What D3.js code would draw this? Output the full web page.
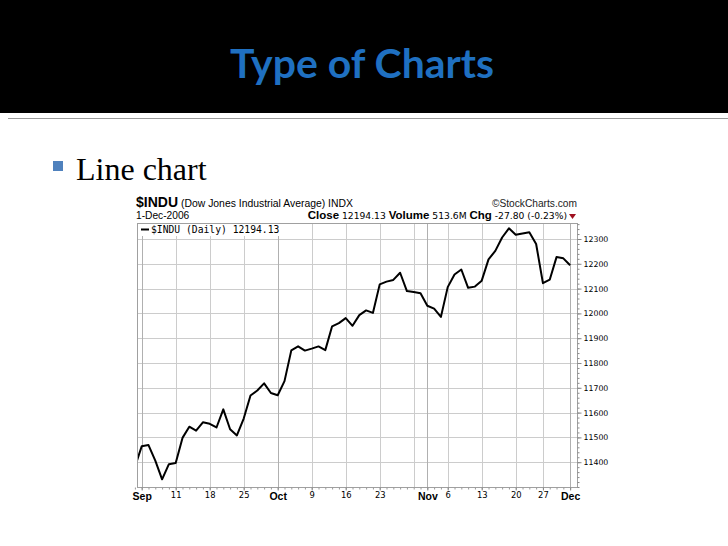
<!DOCTYPE html>
<html><head><meta charset="utf-8">
<script src="https://cdn.jsdelivr.net/npm/d3@7"></script>
<style>
html,body{margin:0;padding:0;background:#fff;}
svg{display:block;}
</style></head>
<body>
<script>
// ---- data ----
const dates = ["2006-08-31",
 "2006-09-01","2006-09-05","2006-09-06","2006-09-07","2006-09-08","2006-09-11","2006-09-12","2006-09-13","2006-09-14","2006-09-15",
 "2006-09-18","2006-09-19","2006-09-20","2006-09-21","2006-09-22","2006-09-25","2006-09-26","2006-09-27","2006-09-28","2006-09-29",
 "2006-10-02","2006-10-03","2006-10-04","2006-10-05","2006-10-06","2006-10-09","2006-10-10","2006-10-11","2006-10-12","2006-10-13",
 "2006-10-16","2006-10-17","2006-10-18","2006-10-19","2006-10-20","2006-10-23","2006-10-24","2006-10-25","2006-10-26","2006-10-27",
 "2006-10-30","2006-10-31","2006-11-01","2006-11-02","2006-11-03","2006-11-06","2006-11-07","2006-11-08","2006-11-09","2006-11-10",
 "2006-11-13","2006-11-14","2006-11-15","2006-11-16","2006-11-17","2006-11-20","2006-11-21","2006-11-22","2006-11-24","2006-11-27",
 "2006-11-28","2006-11-29","2006-11-30","2006-12-01"];
const closes = [11381,
 11464,11469,11406,11331,11392,11397,11498,11543,11527,11561,
 11555,11540,11613,11533,11508,11576,11669,11689,11718,11679,
 11670,11727,11851,11867,11850,11858,11867,11852,11948,11961,
 11981,11950,11993,12012,12002,12117,12128,12135,12164,12090,
 12086,12081,12031,12019,11986,12106,12157,12177,12103,12108,
 12132,12218,12252,12306,12343,12317,12322,12327,12280,12122,
 12136,12227,12222,12194];
const xTickDates = ["2006-09-01","2006-09-11","2006-09-18","2006-09-25","2006-10-02","2006-10-09","2006-10-16","2006-10-23",
 "2006-11-01","2006-11-06","2006-11-13","2006-11-20","2006-11-27","2006-12-01"];
const xTickLabels = ["Sep","11","18","25","Oct","9","16","23","Nov","6","13","20","27","Dec"];
const monthStarts = ["2006-09-01","2006-10-02","2006-11-01","2006-12-01"];
const weekGridDates = ["2006-09-11","2006-09-18","2006-09-25","2006-10-09","2006-10-16","2006-10-23","2006-10-30",
 "2006-11-06","2006-11-13","2006-11-20","2006-11-27"];
const yTicks = [11400,11500,11600,11700,11800,11900,12000,12100,12200,12300];

(function(){
const W = 728, H = 546;
const svg = d3.select("body").append("svg").attr("width", W).attr("height", H);

// ---- slide ----
svg.append("rect").attr("x",0).attr("y",0).attr("width",W).attr("height",113).attr("fill","#000");
const title = svg.append("text").attr("x",362).attr("y",78).attr("text-anchor","middle")
  .attr("font-family","Lato, 'Open Sans', sans-serif").attr("font-weight","bold")
  .attr("font-size",40).attr("fill","#1f70c1").text("Type of Charts");
const tw = title.node().getComputedTextLength();
title.attr("font-size", 40*264/tw);
svg.append("line").attr("x1",8).attr("x2",W).attr("y1",118.5).attr("y2",118.5).attr("stroke","#9a9a9a").attr("stroke-width",1.2);
svg.append("rect").attr("x",53).attr("y",161).attr("width",10).attr("height",10).attr("fill","#4f81bd");
svg.append("text").attr("x",76).attr("y",180).attr("font-family","'Liberation Serif', 'Times New Roman', serif")
  .attr("font-size",32).attr("fill","#000").text("Line chart");

// ---- chart ----
const pL = 137, pR = 577, pT = 223, pB = 487;
const idx = d => dates.indexOf(d);
const x = d3.scaleLinear().domain([0.31, 65.01]).range([pL, pR]);
const y = d3.scaleLinear().domain([11300, 12364.5]).range([pB, pT]);

const g = svg.append("g");
g.append("rect").attr("x",pL).attr("y",pT).attr("width",pR-pL).attr("height",pB-pT).attr("fill","#fff");

g.selectAll(".hg").data(yTicks).join("line")
  .attr("x1",pL).attr("x2",pR).attr("y1",d=>Math.round(y(d))+0.5).attr("y2",d=>Math.round(y(d))+0.5)
  .attr("stroke","#cccccc").attr("stroke-width",1);
g.selectAll(".vg").data(weekGridDates).join("line")
  .attr("x1",d=>Math.round(x(idx(d)))+0.5).attr("x2",d=>Math.round(x(idx(d)))+0.5).attr("y1",pT).attr("y2",pB)
  .attr("stroke","#cccccc").attr("stroke-width",1);
g.selectAll(".mg").data(monthStarts).join("line")
  .attr("x1",d=>Math.round(x(idx(d)))+0.5).attr("x2",d=>Math.round(x(idx(d)))+0.5).attr("y1",pT).attr("y2",pB)
  .attr("stroke","#b0b0b0").attr("stroke-width",1);

svg.append("clipPath").attr("id","plotclip").append("rect")
  .attr("x",pL).attr("y",pT).attr("width",pR-pL).attr("height",pB-pT);
const line = d3.line().x((d,i)=>x(i)).y(d=>y(d));
g.append("path").datum(closes).attr("d",line).attr("clip-path","url(#plotclip)")
  .attr("fill","none").attr("stroke","#000").attr("stroke-width",2).attr("stroke-linejoin","round");

g.append("rect").attr("x",pL+0.5).attr("y",pT+0.5).attr("width",pR-pL).attr("height",pB-pT)
  .attr("fill","none").attr("stroke","#a0a0a0").attr("stroke-width",1);

// legend
const leg = g.append("g");
leg.append("rect").attr("x",pL+1).attr("y",pT+1).attr("width",142).attr("height",12).attr("fill","#fff");
leg.append("line").attr("x1",141).attr("x2",149).attr("y1",229.5).attr("y2",229.5).attr("stroke","#000").attr("stroke-width",2);
leg.append("text").attr("x",151).attr("y",232.5).attr("font-family","'DejaVu Sans Mono', monospace")
  .attr("font-size",9.7).attr("fill","#000").text("$INDU (Daily) 12194.13");

// y axis (right)
const yMinor = d3.range(11300, 12361, 20);
const ya2 = g.append("g").attr("transform",`translate(${pR+0.5},0)`)
  .call(d3.axisRight(y).tickValues(yMinor).tickSize(2).tickFormat(""));
ya2.select(".domain").remove();
ya2.selectAll("line").attr("stroke","#888");
const ya = g.append("g").attr("transform",`translate(${pR+0.5},0)`)
  .call(d3.axisRight(y).tickValues(yTicks).tickSize(4).tickPadding(2).tickFormat(d3.format("d")));
ya.select(".domain").remove();
ya.selectAll("line").attr("stroke","#888");
ya.selectAll("text").attr("font-family","'DejaVu Sans', Verdana, sans-serif").attr("font-size",7.8).attr("fill","#000");

// x axis
const xa2 = g.append("g").attr("transform",`translate(0,${pB+0.5})`)
  .call(d3.axisBottom(x).tickValues(d3.range(0, dates.length)).tickSize(2).tickFormat(""));
xa2.select(".domain").remove();
xa2.selectAll("line").attr("stroke","#999");
const xa = g.append("g").attr("transform",`translate(0,${pB+0.5})`)
  .call(d3.axisBottom(x).tickValues(xTickDates.map(idx)).tickSize(3).tickPadding(2).tickFormat((d,i)=>xTickLabels[i]));
xa.select(".domain").remove();
xa.selectAll("line").attr("stroke","#888");
xa.selectAll("text").each(function(d,i){
  const lab = xTickLabels[i];
  const isMonth = isNaN(+lab);
  d3.select(this).attr("fill","#000")
    .attr("font-family", isMonth ? "'Liberation Sans', Arial, sans-serif" : "'DejaVu Sans', Verdana, sans-serif")
    .attr("font-weight", isMonth ? "bold" : "normal")
    .attr("font-size", isMonth ? 10.5 : 8.4);
});

// header
const h1 = g.append("text").attr("x",136).attr("y",207).attr("font-family","'Liberation Sans', Arial, sans-serif").attr("fill","#000");
h1.append("tspan").attr("font-weight","bold").attr("font-size",14).text("$INDU");
h1.append("tspan").attr("font-size",10.4).attr("dx",3).text("(Dow Jones Industrial Average) INDX");
g.append("text").attr("x",577).attr("y",207).attr("text-anchor","end").attr("font-family","'Liberation Sans', Arial, sans-serif")
  .attr("font-size",10.2).attr("fill","#222").text("©StockCharts.com");
g.append("text").attr("x",136).attr("y",219).attr("font-family","'Liberation Sans', Arial, sans-serif")
  .attr("font-size",10.2).attr("fill","#000").text("1-Dec-2006");
const h2 = g.append("text").attr("x",567).attr("y",219).attr("text-anchor","end")
  .attr("font-family","'DejaVu Sans', Verdana, sans-serif").attr("font-size",9.2).attr("fill","#000");
const bold = "'Liberation Sans', Arial, sans-serif";
h2.append("tspan").attr("font-family",bold).attr("font-weight","bold").attr("font-size",11.5).text("Close");
h2.append("tspan").text(" 12194.13 ");
h2.append("tspan").attr("font-family",bold).attr("font-weight","bold").attr("font-size",11.5).text("Volume");
h2.append("tspan").text(" 513.6M ");
h2.append("tspan").attr("font-family",bold).attr("font-weight","bold").attr("font-size",11.5).text("Chg");
h2.append("tspan").text(" -27.80 (-0.23%)");
g.append("path").attr("d","M569,214 L576,214 L572.5,219 Z").attr("fill","#a01020");
})();
</script>
</body></html>
